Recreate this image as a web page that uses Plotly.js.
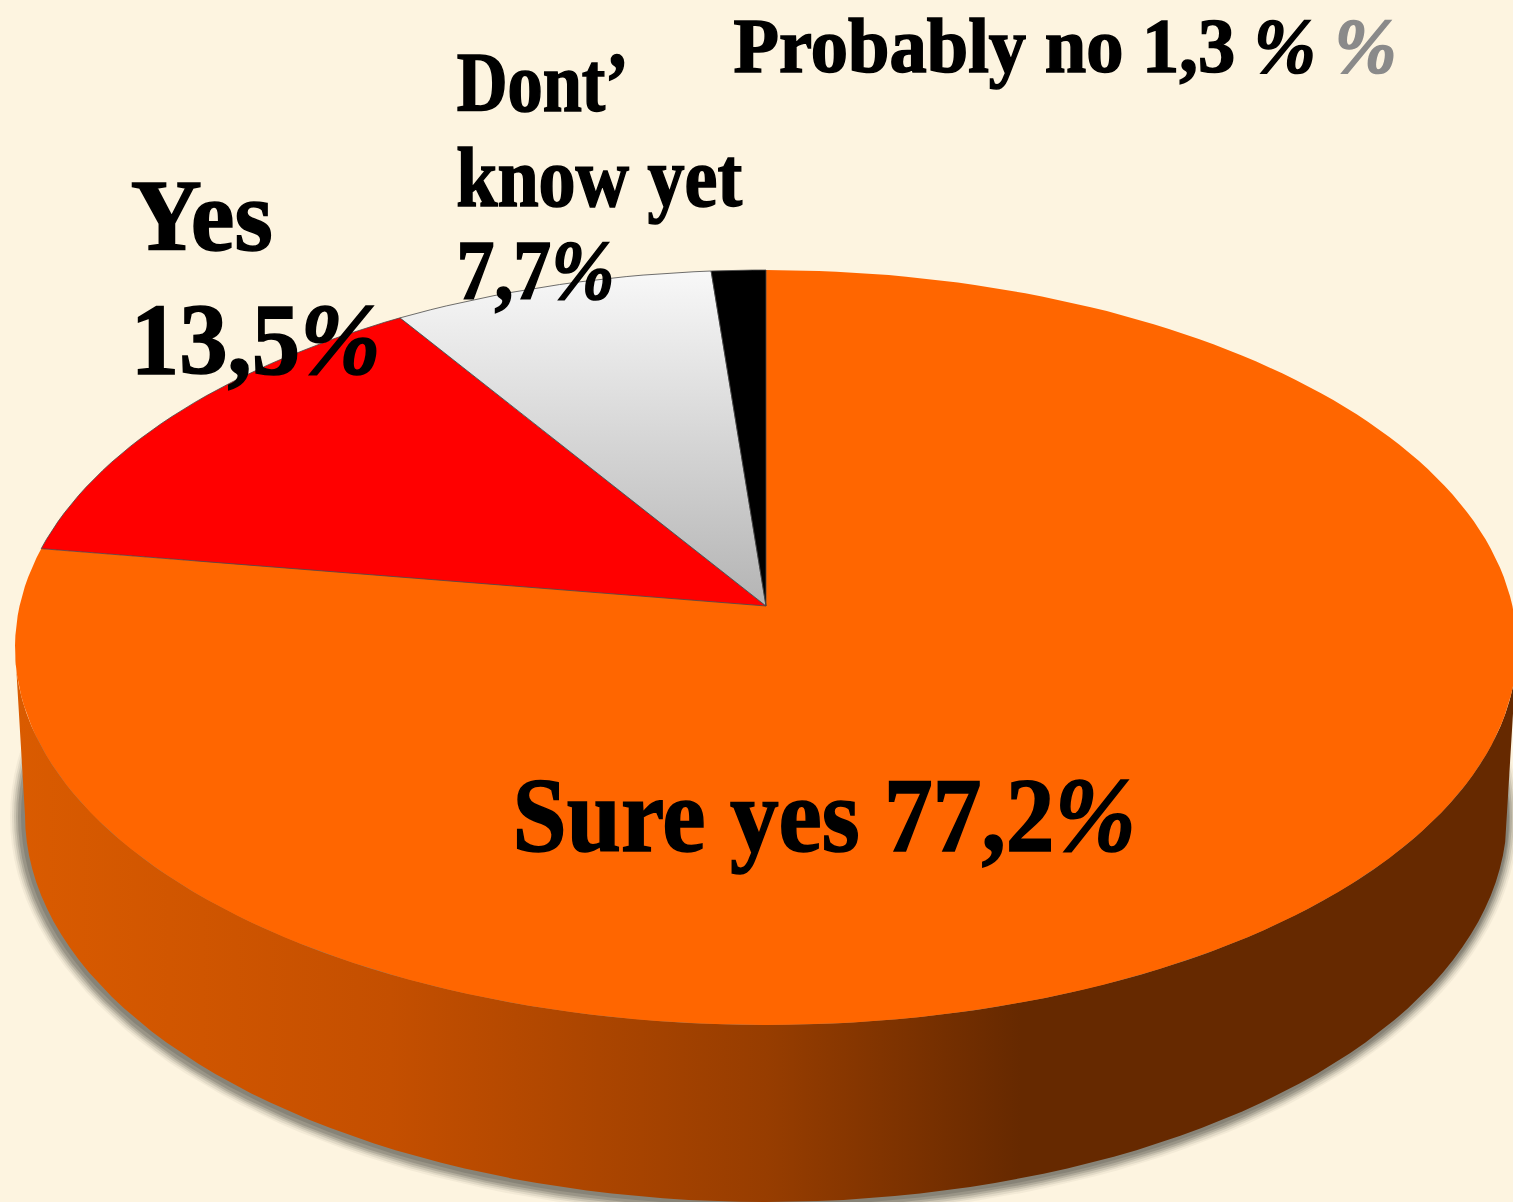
<!DOCTYPE html>
<html><head><meta charset="utf-8">
<script src="https://cdn.plot.ly/plotly-3.0.1.min.js"></script>
<style>html,body{margin:0;padding:0;background:#fdf4e0;overflow:hidden}#chart{width:1513px;height:1202px}</style>
</head><body><div id="chart"></div>
<script>
// values, in the order they run anticlockwise from 12 o'clock
const categories = ['Probably no','Dont\u2019 know yet','Yes','Sure yes'];
const values = [1.3, 7.7, 13.5, 77.2];
const sliceColors = ['#000000', null, '#ff0000', '#ff6600'];

// text lines
const labelText  = ['Probably no 1,3 <i>%</i> <span style="color:#8a8a8a"><i>%</i></span>','Dont\u2019','know yet','7,7<i>%</i>','Yes','13,5<i>%</i>','Sure yes 77,2<i>%</i>'];
const labelLeft  = [733,456,456,456,130,130,512];
const labelRight = [1396,628,742,614,272,380,1135];
const labelBase  = [69,108,203,296,246,370,847];
const labelSize  = [78,84,84,84,102,102,106];

// disc geometry (pixels of the picture)
const top3d = {cx:766, cy:647.5, rx:751, ry:377.5, apexY:606};
const base3d = {cx:766, cy:815, rx:741, ry:387};

const p = (top3d.apexY-top3d.cy)/top3d.ry, k = Math.sqrt(1-p*p);
function rim(deg){ // deg anticlockwise from top, perspective-projected onto the top ellipse
  const a = deg*Math.PI/180, u = -Math.sin(a), v = -Math.cos(a), d = 1+p*v;
  return [top3d.cx+top3d.rx*u*k/d, top3d.cy+top3d.ry*(v+p)/d];
}
function wedge(a0,a1){
  const xs=[top3d.cx], ys=[top3d.apexY], n=Math.max(4,Math.ceil((a1-a0)/1.5));
  for(let i=0;i<=n;i++){const q=rim(a0+(a1-a0)*i/n);xs.push(q[0]);ys.push(q[1]);}
  xs.push(top3d.cx);ys.push(top3d.apexY);
  return {x:xs,y:ys};
}
function ellipseArc(e,from,to,dx,dy,grow){
  const xs=[],ys=[];
  for(let t=from;(to>from)?t<=to:t>=to;t+=(to>from)?2:-2){
    const a=t*Math.PI/180;
    xs.push(e.cx+(dx||0)+(e.rx+(grow||0))*Math.cos(a));
    ys.push(e.cy+(dy||0)+(e.ry+(grow||0))*Math.sin(a));
  }
  return {x:xs,y:ys};
}
const traces=[];
function shadow(g,dx,dy,op){
  const s=ellipseArc(base3d,0,360,dx,dy,g);
  traces.push({type:'scatter',mode:'lines',x:s.x,y:s.y,fill:'toself',fillcolor:'rgba(80,80,70,'+op+')',line:{width:0},hoverinfo:'skip',showlegend:false});
}
shadow(13,-2,2,0.06);shadow(11,-2,2,0.1);shadow(9,-2,2,0.15);shadow(7,-2,2,0.2);shadow(5,-2,2,0.25);shadow(3,-1,1,0.25);

// side wall
const wallTop=ellipseArc(top3d,180,0), wallBot=ellipseArc(base3d,0,180);
traces.push({type:'scatter',mode:'lines',name:'side',
  x:wallTop.x.concat(wallBot.x),y:wallTop.y.concat(wallBot.y),fill:'toself',
  fillgradient:{type:'horizontal',colorscale:[[0,'#da5b00'],[0.25,'#c44f00'],[0.5,'#973d00'],[0.67,'#662900'],[1,'#662900']]},
  line:{width:0},hoverinfo:'skip',showlegend:false});

// slices, largest first so the thin edges lie on top
let cum=[0]; values.forEach((v,i)=>cum.push(i==values.length-1?100:cum[i]+v));
const order=[3,2,1,0];
order.forEach(i=>{
  const w=wedge(cum[i]*3.6,cum[i+1]*3.6);
  const t={type:'scatter',mode:'lines',name:categories[i],x:w.x,y:w.y,fill:'toself',
    line:{width:i==3?0:0.8,color:i==3?'#ff6600':'#4a4a4a'},hoverinfo:'name',showlegend:false};
  if(sliceColors[i]) t.fillcolor=sliceColors[i];
  else t.fillgradient={type:'vertical',colorscale:[[0,'#b4b4b4'],[1,'#f8f8f8']]};
  traces.push(t);
});

const annotations=labelText.map((s,i)=>({
  xref:'x',yref:'y',x:(labelLeft[i]+labelRight[i])/2,y:labelBase[i]-labelSize[i]*0.3,
  xanchor:'center',yanchor:'middle',showarrow:false,text:s,borderpad:0,
  font:{family:'Liberation Serif',size:labelSize[i],color:'#000',weight:700}
}));

const layout={width:1513,height:1202,margin:{l:0,r:0,t:0,b:0},
  paper_bgcolor:'#fdf4e0',plot_bgcolor:'#fdf4e0',showlegend:false,
  xaxis:{range:[0,1513],visible:false,fixedrange:true},
  yaxis:{range:[1202,0],visible:false,fixedrange:true},
  annotations};
Plotly.newPlot('chart',traces,layout,{displayModeBar:false,staticPlot:true}).then(gd=>{
  gd.querySelectorAll('.annotation-text').forEach((el,idx)=>{
    // condense each line horizontally to the width it has in the picture
    const b=el.getBBox(), c=b.x+b.width/2, sx=(labelRight[idx]-labelLeft[idx])/b.width;
    el.setAttribute('transform','translate('+c+' 0) scale('+sx+' 1) translate('+(-c)+' 0)');
    el.style.stroke='#000';el.style.strokeWidth='1.6px';
    el.querySelectorAll('tspan').forEach(t=>{ if(t.style.fill) t.style.stroke=t.style.fill; });
  });
});
</script></body></html>
